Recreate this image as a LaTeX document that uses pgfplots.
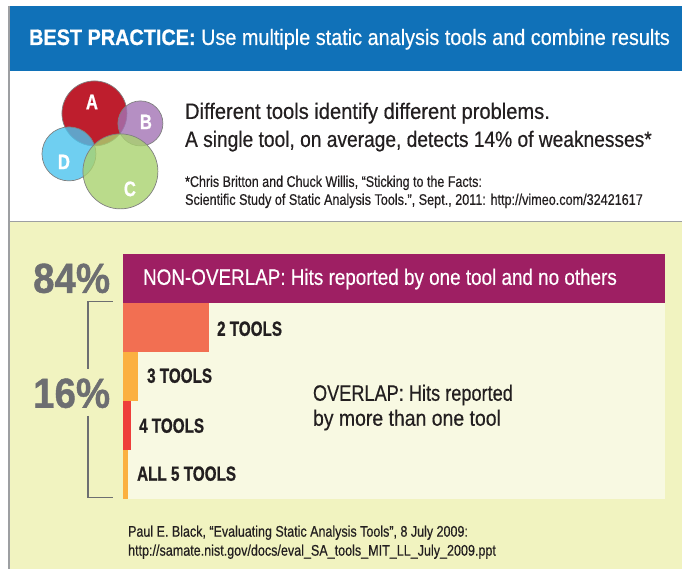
\documentclass[border=0pt]{standalone}
\usepackage{pgfplots}
\pgfplotsset{compat=1.18}
\usepackage{graphicx}
\usepackage{fontspec}
\setmainfont{Liberation Sans}[FakeBold=0.5,BoldFeatures={FakeBold=1}]
\definecolor{banner}{RGB}{16,113,184}
\definecolor{bordergray}{RGB}{157,159,162}
\definecolor{ylw}{RGB}{241,243,192}
\definecolor{cream}{RGB}{248,249,226}
\definecolor{mag}{RGB}{158,31,99}
\definecolor{ctwo}{RGB}{242,111,82}
\definecolor{cthree}{RGB}{251,176,64}
\definecolor{cfour}{RGB}{238,62,58}
\definecolor{pgray}{RGB}{109,110,113}
\definecolor{dark}{RGB}{35,31,32}
\definecolor{va}{RGB}{190,30,45}
\definecolor{vb}{RGB}{163,115,180}
\definecolor{vd}{RGB}{75,196,238}
\definecolor{vc}{RGB}{169,210,111}
\newcommand{\fl}[2]{\resizebox{#1pt}{\height}{#2}}
\begin{document}
\begin{tikzpicture}[x=1pt,y=1pt]
% page
\fill[white] (0,0) rectangle (682,569);
\fill[banner] (10,498) rectangle (682,563);
\fill[ylw] (9,0) rectangle (682,347);
\draw[bordergray,line width=0.8pt] (9,347) -- (682,347);
\draw[bordergray,line width=1.2pt] (9,0) -- (9,563);
% venn
\begin{scope}[draw=gray,line width=0.7pt]
\filldraw[fill=va] (94.5,455.5) circle (32.5);
\filldraw[fill=vb,fill opacity=0.8] (140.5,445.5) circle (22.5);
\filldraw[fill=vd,fill opacity=0.8] (69,415) circle (27);
\filldraw[fill=vc,fill opacity=0.8] (120.5,397.5) circle (37.5);
\end{scope}
\begin{scope}[every node/.style={text=white,inner sep=0,font=\fontsize{21}{24}\selectfont\bfseries}]
\node at (92,467) {\fl{12}{A}};
\node at (146,447) {\fl{12}{B}};
\node at (64,407) {\fl{12}{D}};
\node at (130,380) {\fl{12}{C}};
\end{scope}
% header texts
\node[anchor=base west,inner sep=0,text=white,font=\fontsize{22.3}{26}\selectfont] at (29,524)
  {\fl{641}{\textbf{BEST PRACTICE:} Use multiple static analysis tools and combine results}};
\node[anchor=base west,inner sep=0,text=dark,font=\fontsize{22.3}{26}\selectfont] at (185,450)
  {\fl{365}{Different tools identify different problems.}};
\node[anchor=base west,inner sep=0,text=dark,font=\fontsize{22.3}{26}\selectfont] at (185,422)
  {\fl{467}{A single tool, on average, detects 14\% of weaknesses*}};
\node[anchor=base west,inner sep=0,text=dark,font=\fontsize{15.4}{18}\selectfont] at (185,382)
  {\fl{297}{*Chris Britton and Chuck Willis, “Sticking to the Facts:}};
\node[anchor=base west,inner sep=0,text=dark,font=\fontsize{15.4}{18}\selectfont] at (185,364)
  {\fl{458}{Scientific Study of Static Analysis Tools.”, Sept., 2011: http://vimeo.com/32421617}};
% chart
\begin{axis}[at={(123pt,70pt)},anchor=south west,scale only axis,
  width=542pt,height=245pt,xmin=0,xmax=84,ymin=-0.5,ymax=4.5,y dir=reverse,
  xbar,bar width=1,bar shift=0,axis line style={draw=none},ticks=none,
  axis background/.style={fill=cream},clip=false]
\addplot[fill=mag,draw=none] coordinates {(84,0)};
\addplot[fill=ctwo,draw=none] coordinates {(13.3,1)};
\addplot[fill=cthree,draw=none] coordinates {(2.3,2)};
\addplot[fill=cfour,draw=none] coordinates {(1.2,3)};
\addplot[fill=cthree,draw=none] coordinates {(0.8,4)};
\end{axis}
% chart texts
\node[anchor=base west,inner sep=0,text=white,font=\fontsize{22.3}{26}\selectfont] at (143,284)
  {\fl{474}{NON-OVERLAP: Hits reported by one tool and no others}};
\begin{scope}[every node/.style={anchor=base west,inner sep=0,text=dark,font=\fontsize{20.5}{24}\selectfont\bfseries}]
\node at (217,233) {\fl{65}{2 TOOLS}};
\node at (147,186) {\fl{65}{3 TOOLS}};
\node at (139,136) {\fl{65}{4 TOOLS}};
\node at (137,88) {\fl{99}{ALL 5 TOOLS}};
\end{scope}
\node[anchor=base west,inner sep=0,text=dark,font=\fontsize{22.3}{26}\selectfont] at (313,168)
  {\fl{200}{OVERLAP: Hits reported}};
\node[anchor=base west,inner sep=0,text=dark,font=\fontsize{22.3}{26}\selectfont] at (313,143)
  {\fl{188}{by more than one tool}};
\node[anchor=base west,inner sep=0,text=pgray,font=\fontsize{42}{48}\selectfont\bfseries] at (33,276)
  {\fl{77}{84\%}};
\node[anchor=base west,inner sep=0,text=pgray,font=\fontsize{42}{48}\selectfont\bfseries] at (33,161)
  {\fl{77}{16\%}};
\draw[pgray,line width=1.2pt] (113,267) -- (88,267) -- (88,200);
\draw[pgray,line width=1.2pt] (88,153) -- (88,71) -- (113,71);
% footer
\node[anchor=base west,inner sep=0,text=dark,font=\fontsize{15.4}{18}\selectfont] at (128,32)
  {\fl{340}{Paul E. Black, “Evaluating Static Analysis Tools”, 8 July 2009:}};
\node[anchor=base west,inner sep=0,text=dark,font=\fontsize{15.4}{18}\selectfont] at (128,13)
  {\fl{368}{http://samate.nist.gov/docs/eval\_SA\_tools\_MIT\_LL\_July\_2009.ppt}};
\end{tikzpicture}
\end{document}
